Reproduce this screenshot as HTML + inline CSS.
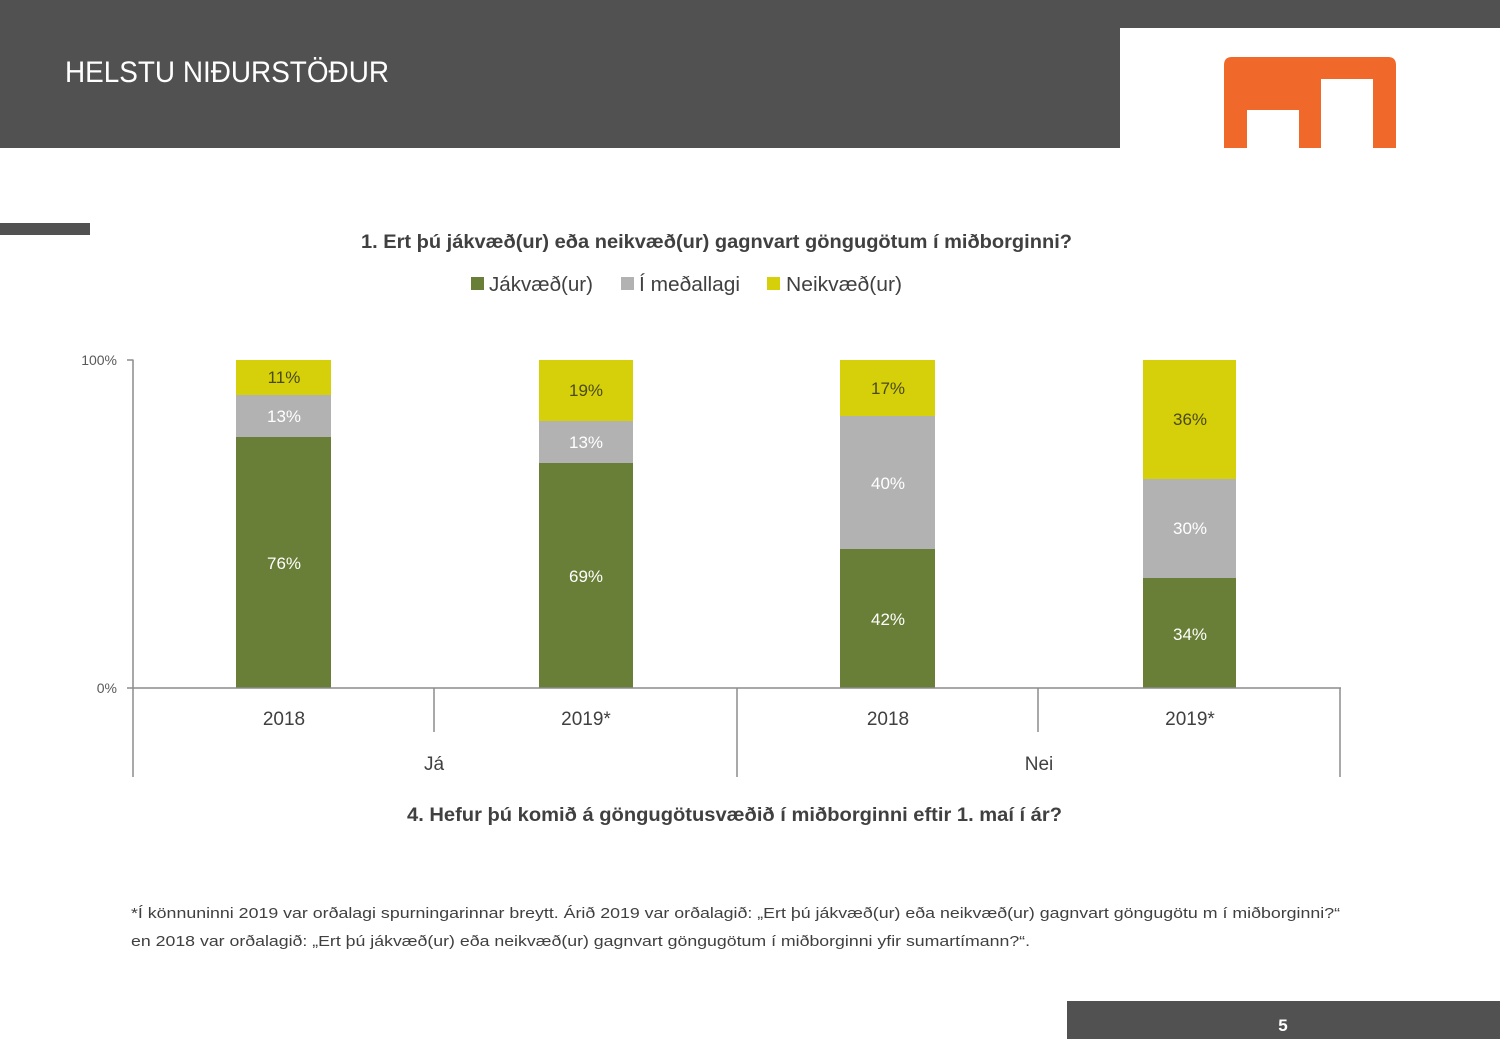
<!DOCTYPE html>
<html>
<head>
<meta charset="utf-8">
<style>
html,body{margin:0;padding:0;background:#fff;}
svg{display:block;}
text{font-family:"Liberation Sans",sans-serif;}
</style>
</head>
<body>
<svg width="1500" height="1039" viewBox="0 0 1500 1039" xmlns="http://www.w3.org/2000/svg">
  <rect x="0" y="0" width="1500" height="1039" fill="#ffffff"/>
  <!-- header -->
  <rect x="0" y="0" width="1500" height="28" fill="#515151"/>
  <rect x="0" y="0" width="1120" height="148" fill="#515151"/>
  <text x="65" y="82" font-size="30" fill="#ffffff" textLength="324" lengthAdjust="spacingAndGlyphs">HELSTU NIÐURSTÖÐUR</text>
  <!-- logo -->
  <path d="M1224,148 L1224,65 Q1224,57 1232,57 L1388,57 Q1396,57 1396,65 L1396,148 L1373,148 L1373,79 L1321,79 L1321,148 L1299,148 L1299,110 L1247,110 L1247,148 Z" fill="#f0692a"/>
  <!-- left small bar -->
  <rect x="0" y="223" width="90" height="12" fill="#515151"/>
  <!-- chart title -->
  <text x="361" y="248" font-size="19" font-weight="bold" fill="#404040" textLength="711" lengthAdjust="spacingAndGlyphs">1. Ert þú jákvæð(ur) eða neikvæð(ur) gagnvart göngugötum í miðborginni?</text>
  <!-- legend -->
  <rect x="471" y="277" width="13" height="13" fill="#697e36"/>
  <text x="489" y="291" font-size="20" fill="#404040" textLength="104" lengthAdjust="spacingAndGlyphs">Jákvæð(ur)</text>
  <rect x="621" y="277" width="13" height="13" fill="#b2b2b2"/>
  <text x="639" y="291" font-size="20" fill="#404040" textLength="101" lengthAdjust="spacingAndGlyphs">Í meðallagi</text>
  <rect x="767" y="277" width="13" height="13" fill="#d6d00a"/>
  <text x="786" y="291" font-size="20" fill="#404040" textLength="116" lengthAdjust="spacingAndGlyphs">Neikvæð(ur)</text>
  <!-- y axis -->
  <line x1="133" y1="359.5" x2="133" y2="688" stroke="#8c8c8c" stroke-width="1.5"/>
  <line x1="127" y1="360" x2="133" y2="360" stroke="#8c8c8c" stroke-width="1.5"/>
  <line x1="127" y1="688" x2="133" y2="688" stroke="#8c8c8c" stroke-width="1.5"/>
  <text x="117" y="365" font-size="14" fill="#595959" text-anchor="end">100%</text>
  <text x="117" y="693" font-size="14" fill="#595959" text-anchor="end">0%</text>
  <!-- bars -->
  <!-- bar1 -->
  <rect x="236" y="360" width="95" height="35" fill="#d6d00a"/>
  <rect x="236" y="395" width="95" height="42" fill="#b2b2b2"/>
  <rect x="236" y="437" width="95" height="251" fill="#697e36"/>
  <!-- bar2 -->
  <rect x="539" y="360" width="94" height="61" fill="#d6d00a"/>
  <rect x="539" y="421" width="94" height="42" fill="#b2b2b2"/>
  <rect x="539" y="463" width="94" height="225" fill="#697e36"/>
  <!-- bar3 -->
  <rect x="840" y="360" width="95" height="56" fill="#d6d00a"/>
  <rect x="840" y="416" width="95" height="133" fill="#b2b2b2"/>
  <rect x="840" y="549" width="95" height="139" fill="#697e36"/>
  <!-- bar4 -->
  <rect x="1143" y="360" width="93" height="119" fill="#d6d00a"/>
  <rect x="1143" y="479" width="93" height="99" fill="#b2b2b2"/>
  <rect x="1143" y="578" width="93" height="110" fill="#697e36"/>
  <!-- bar labels -->
  <g font-size="17" text-anchor="middle">
    <text x="284" y="383" fill="#4a4a18">11%</text>
    <text x="284" y="422" fill="#ffffff">13%</text>
    <text x="284" y="569" fill="#ffffff">76%</text>
    <text x="586" y="396" fill="#4a4a18">19%</text>
    <text x="586" y="448" fill="#ffffff">13%</text>
    <text x="586" y="582" fill="#ffffff">69%</text>
    <text x="888" y="394" fill="#4a4a18">17%</text>
    <text x="888" y="489" fill="#ffffff">40%</text>
    <text x="888" y="625" fill="#ffffff">42%</text>
    <text x="1190" y="425" fill="#4a4a18">36%</text>
    <text x="1190" y="534" fill="#ffffff">30%</text>
    <text x="1190" y="640" fill="#ffffff">34%</text>
  </g>
  <!-- x axis -->
  <line x1="133" y1="688" x2="1341" y2="688" stroke="#8c8c8c" stroke-width="1.5"/>
  <line x1="133" y1="688" x2="133" y2="777" stroke="#8c8c8c" stroke-width="1.5"/>
  <line x1="434" y1="688" x2="434" y2="732" stroke="#8c8c8c" stroke-width="1.5"/>
  <line x1="737" y1="688" x2="737" y2="777" stroke="#8c8c8c" stroke-width="1.5"/>
  <line x1="1038" y1="688" x2="1038" y2="732" stroke="#8c8c8c" stroke-width="1.5"/>
  <line x1="1340" y1="688" x2="1340" y2="777" stroke="#8c8c8c" stroke-width="1.5"/>
  <g font-size="19" fill="#404040" text-anchor="middle">
    <text x="284" y="725">2018</text>
    <text x="586" y="725">2019*</text>
    <text x="888" y="725">2018</text>
    <text x="1190" y="725">2019*</text>
    <text x="434" y="770">Já</text>
    <text x="1039" y="770">Nei</text>
  </g>
  <!-- second question -->
  <text x="407" y="821" font-size="19" font-weight="bold" fill="#404040" textLength="655" lengthAdjust="spacingAndGlyphs">4. Hefur þú komið á göngugötusvæðið í miðborginni eftir 1. maí í ár?</text>
  <!-- footnote -->
  <text x="131" y="918" font-size="15" fill="#404040" textLength="1209" lengthAdjust="spacingAndGlyphs">*Í könnuninni 2019 var orðalagi spurningarinnar breytt. Árið 2019 var orðalagið: „Ert þú jákvæð(ur) eða neikvæð(ur) gagnvart göngugötu m í miðborginni?“</text>
  <text x="131" y="946" font-size="15" fill="#404040" textLength="899" lengthAdjust="spacingAndGlyphs">en 2018 var orðalagið: „Ert þú jákvæð(ur) eða neikvæð(ur) gagnvart göngugötum í miðborginni yfir sumartímann?“.</text>
  <!-- footer -->
  <rect x="1067" y="1001" width="433" height="38" fill="#515151"/>
  <text x="1283" y="1031" font-size="17" font-weight="bold" fill="#ffffff" text-anchor="middle">5</text>
</svg>
</body>
</html>
